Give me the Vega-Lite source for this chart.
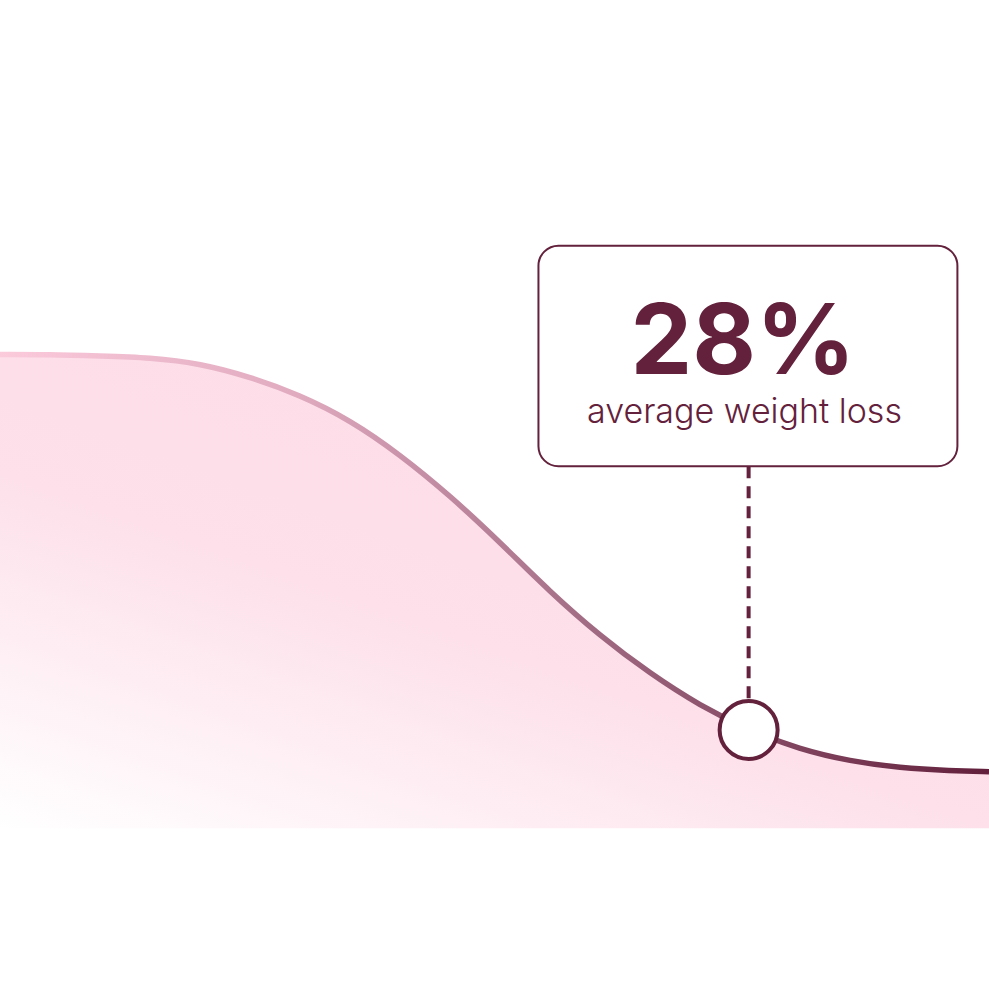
{
  "$schema": "https://vega.github.io/schema/vega-lite/v6.json",
  "width": 989,
  "height": 1007,
  "autosize": "none",
  "padding": 0,
  "background": "white",
  "datasets": {
    "curve": [
      {"week": 0, "weight": 100},
      {"week": 3.6, "weight": 100},
      {"week": 7.3, "weight": 99.9},
      {"week": 10.9, "weight": 99.8},
      {"week": 14.6, "weight": 99.4},
      {"week": 18.2, "weight": 98.5},
      {"week": 21.8, "weight": 97.3},
      {"week": 25.5, "weight": 95.6},
      {"week": 29.1, "weight": 93.3},
      {"week": 32.8, "weight": 90.5},
      {"week": 36.4, "weight": 87.4},
      {"week": 40, "weight": 84.1},
      {"week": 43.7, "weight": 81.1},
      {"week": 47.3, "weight": 78.6},
      {"week": 51, "weight": 76.4},
      {"week": 54.5, "weight": 74.8},
      {"week": 58.2, "weight": 73.5},
      {"week": 61.9, "weight": 72.7},
      {"week": 65.5, "weight": 72.25},
      {"week": 69.2, "weight": 72.05},
      {"week": 72, "weight": 72}
    ],
    "marker": [{"week": 54.5, "weight": 74.8, "top": 92.5}],
    "box": [{"start": 39.2, "end": 69.7, "high": 107.3, "low": 92.5}],
    "labels": [
      {"week": 54.1, "weight": 98.7, "text": "28%", "kind": "value"},
      {"week": 54.2, "weight": 95.4, "text": "average weight loss", "kind": "caption"}
    ]
  },
  "encoding": {
    "x": {"type": "quantitative", "scale": {"domain": [0, 72], "nice": false, "zero": false}, "axis": null},
    "y": {"type": "quantitative", "scale": {"domain": [56.2, 123.8], "nice": false, "zero": false}, "axis": null}
  },
  "layer": [
    {
      "data": {"name": "curve"},
      "mark": {
        "type": "area",
        "interpolate": "basis",
        "fill": {
          "gradient": "linear",
          "x1": 0, "y1": 1, "x2": 0.6, "y2": 0.2,
          "stops": [
            {"offset": 0, "color": "#ffffff"},
            {"offset": 0.6, "color": "#fde0ea"},
            {"offset": 1, "color": "#fddde8"}
          ]
        }
      },
      "encoding": {
        "x": {"field": "week", "type": "quantitative"},
        "y": {"field": "weight", "type": "quantitative"},
        "y2": {"datum": 68.2}
      }
    },
    {
      "data": {"name": "curve"},
      "mark": {
        "type": "line",
        "interpolate": "basis",
        "strokeWidth": 5.5,
        "stroke": {
          "gradient": "linear",
          "x1": 0, "y1": 0, "x2": 1, "y2": 0,
          "stops": [
            {"offset": 0, "color": "#fbcadb"},
            {"offset": 0.3, "color": "#e0aabf"},
            {"offset": 0.6, "color": "#a06a82"},
            {"offset": 1, "color": "#621f3b"}
          ]
        }
      },
      "encoding": {
        "x": {"field": "week", "type": "quantitative"},
        "y": {"field": "weight", "type": "quantitative"}
      }
    },
    {
      "data": {"name": "marker"},
      "mark": {"type": "rule", "color": "#63213b", "strokeWidth": 4, "strokeDash": [12, 8]},
      "encoding": {
        "x": {"field": "week", "type": "quantitative"},
        "y": {"field": "top", "type": "quantitative"},
        "y2": {"field": "weight"}
      }
    },
    {
      "data": {"name": "marker"},
      "mark": {"type": "point", "shape": "circle", "size": 3364, "filled": false, "fill": "white", "fillOpacity": 1, "stroke": "#63213b", "strokeWidth": 4, "opacity": 1},
      "encoding": {
        "x": {"field": "week", "type": "quantitative"},
        "y": {"field": "weight", "type": "quantitative"}
      }
    },
    {
      "data": {"name": "box"},
      "mark": {"type": "rect", "fill": "white", "stroke": "#63213b", "strokeWidth": 2, "cornerRadius": 20},
      "encoding": {
        "x": {"field": "start", "type": "quantitative"},
        "x2": {"field": "end"},
        "y": {"field": "high", "type": "quantitative"},
        "y2": {"field": "low"}
      }
    },
    {
      "data": {"name": "labels"},
      "transform": [{"filter": "datum.kind === 'value'"}],
      "mark": {"type": "text", "font": "Inter", "fontWeight": 700, "fontSize": 98, "color": "#63213b", "align": "center", "baseline": "alphabetic"},
      "encoding": {
        "x": {"field": "week", "type": "quantitative"},
        "y": {"field": "weight", "type": "quantitative"},
        "text": {"field": "text"}
      }
    },
    {
      "data": {"name": "labels"},
      "transform": [{"filter": "datum.kind === 'caption'"}],
      "mark": {"type": "text", "font": "Inter", "fontWeight": 300, "fontSize": 34, "color": "#63213b", "align": "center", "baseline": "alphabetic"},
      "encoding": {
        "x": {"field": "week", "type": "quantitative"},
        "y": {"field": "weight", "type": "quantitative"},
        "text": {"field": "text"}
      }
    }
  ],
  "config": {
    "view": {"stroke": null}
  }
}
